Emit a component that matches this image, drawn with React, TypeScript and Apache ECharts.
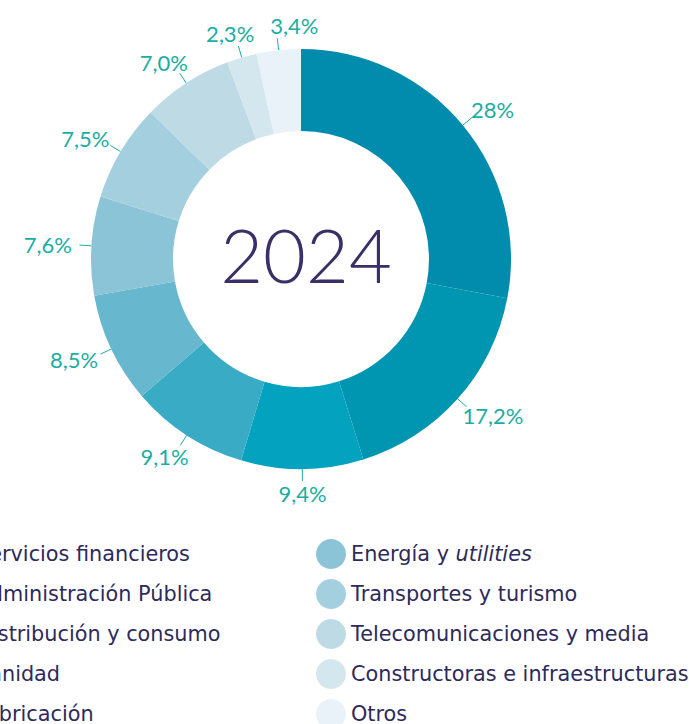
import React, { useEffect, useRef } from "react";
import * as echarts from "echarts";

const categories = [
  "Servicios financieros",
  "Administración Pública",
  "Distribución y consumo",
  "Sanidad",
  "Fabricación",
  "Energía y utilities",
  "Transportes y turismo",
  "Telecomunicaciones y media",
  "Constructoras e infraestructuras",
  "Otros",
];
const values = [28, 17.2, 9.4, 9.1, 8.5, 7.6, 7.5, 7.0, 2.3, 3.4];
const valueLabels = ["28%", "17,2%", "9,4%", "9,1%", "8,5%", "7,6%", "7,5%", "7,0%", "2,3%", "3,4%"];
const colors = [
  "#018BAC",
  "#0096B2",
  "#03A2BE",
  "#39ABC5",
  "#67B7CE",
  "#8AC4D6",
  "#A3CFDE",
  "#BEDBE5",
  "#D4E7EE",
  "#E9F2F8",
];
const centerTitle = "2024";

const FONT = "Lato, 'Noto Sans', sans-serif";
const LEGEND_FONT = "'DejaVu Sans', sans-serif";
const LEGEND_COLOR = "#2E2A5B";
const LABEL_COLOR = "#19AEA2";
const CX = 301;
const CY = 259;

export default function App() {
  const ref = useRef<HTMLDivElement>(null);
  useEffect(() => {
    document.body.style.margin = "0";
    const chart = echarts.init(ref.current!, null, { renderer: "svg" });
    const LFS = 20.8;
    const legendCommon = {
      orient: "vertical",
      top: 534,
      height: 300,
      itemWidth: 30,
      itemHeight: 30,
      itemGap: 10,
      icon: "circle",
      selectedMode: false,
      textStyle: {
        fontFamily: LEGEND_FONT,
        fontSize: LFS,
        color: LEGEND_COLOR,
        rich: {
          n: { fontFamily: LEGEND_FONT, fontSize: LFS, color: LEGEND_COLOR },
          i: { fontFamily: LEGEND_FONT, fontSize: LFS, color: LEGEND_COLOR, fontStyle: "italic" },
        },
      },
      formatter: (name: string) =>
        name === "Energía y utilities" ? "{n|Energía y }{i|utilities}" : name,
    };
    const LINE_LEN = 12;
    const GAP = 5;
    const LABEL_H = 16;
    const PAD = 8;
    chart.setOption({
      animation: false,
      color: colors,
      title: {
        text: centerTitle,
        left: CX,
        top: 249,
        textAlign: "center",
        textVerticalAlign: "middle",
        textStyle: {
          fontFamily: FONT,
          fontWeight: 300,
          fontSize: 74,
          color: "#3A2F66",
        },
      },
      legend: [
        { ...legendCommon, left: -64, data: categories.slice(0, 5) },
        { ...legendCommon, left: 311, data: categories.slice(5) },
      ],
      series: [
        {
          type: "pie",
          center: [CX, CY],
          radius: [128, 210],
          startAngle: 90,
          clockwise: true,
          silent: true,
          data: categories.map((c, i) => ({ name: c, value: values[i] })),
          label: {
            show: true,
            position: "outside",
            fontFamily: FONT,
            fontWeight: 400,
            fontSize: 22,
            lineHeight: LABEL_H,
            padding: [0, PAD, 0, PAD],
            color: LABEL_COLOR,
            formatter: (p: any) => valueLabels[p.dataIndex],
          },
          labelLine: {
            show: true,
            length: LINE_LEN,
            length2: 0,
            lineStyle: { color: LABEL_COLOR, width: 1 },
          },
          labelLayout: (params: any) => {
            const pts = params.labelLinePoints;
            if (!pts) return {};
            const p0 = pts[0];
            const dx = p0[0] - CX;
            const dy = p0[1] - CY;
            const n = Math.hypot(dx, dy) || 1;
            const ux = dx / n;
            const uy = dy / n;
            const end = [p0[0] + ux * LINE_LEN, p0[1] + uy * LINE_LEN];
            const w = params.labelRect.width - 2 * PAD;
            const nearTop = uy < -0.9;
            return {
              x: end[0] + ux * GAP + (ux * w) / 2,
              y: end[1] + uy * GAP + (uy * LABEL_H) / 2,
              align: "center",
              verticalAlign: "middle",
              moveOverlap: nearTop ? "shiftX" : undefined,
              labelLinePoints: [p0, end, end],
            };
          },
        },
      ],
    });
    return () => chart.dispose();
  }, []);
  return <div ref={ref} style={{ width: 689, height: 724 }} />;
}
